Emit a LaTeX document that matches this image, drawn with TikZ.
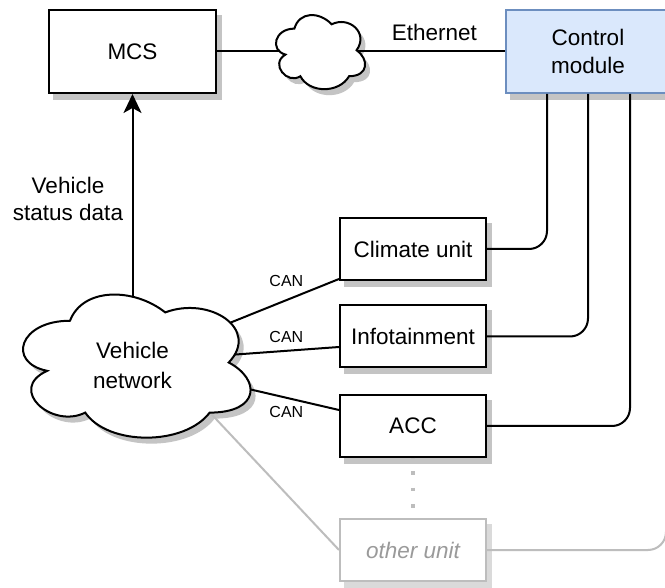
\documentclass[tikz,border=0pt]{standalone}
\usepackage{fontspec}
\setmainfont{Liberation Sans}
\usetikzlibrary{arrows.meta}

\definecolor{shadowgray}{HTML}{C4C4C4}
\definecolor{faintshadow}{HTML}{DADADA}
\definecolor{ctrlfill}{HTML}{DAE8FC}
\definecolor{ctrldraw}{HTML}{6C8EBF}
\definecolor{faintline}{HTML}{BDBDBD}
\definecolor{fainttext}{HTML}{9A9A9A}

\pgfdeclarelayer{shadowlayer}
\pgfsetlayers{shadowlayer,main}

\newcommand\dmain{\fontsize{22.5}{28}\selectfont}
\newcommand\dsmall{\fontsize{16}{19}\selectfont}

% cloud outline: #1,#2 = top left corner, #3 = width, #4 = height, #5 = path options
\newcommand\dcloud[5]{%
  \path[#5] ({#1+0.25*#3},{#2+0.25*#4})
    .. controls ({#1+0.05*#3},{#2+0.25*#4}) and ({#1},{#2+0.5*#4}) .. ({#1+0.16*#3},{#2+0.55*#4})
    .. controls ({#1},{#2+0.66*#4}) and ({#1+0.18*#3},{#2+0.9*#4}) .. ({#1+0.31*#3},{#2+0.8*#4})
    .. controls ({#1+0.4*#3},{#2+#4}) and ({#1+0.7*#3},{#2+#4}) .. ({#1+0.8*#3},{#2+0.8*#4})
    .. controls ({#1+#3},{#2+0.8*#4}) and ({#1+#3},{#2+0.6*#4}) .. ({#1+0.875*#3},{#2+0.5*#4})
    .. controls ({#1+#3},{#2+0.3*#4}) and ({#1+0.8*#3},{#2+0.1*#4}) .. ({#1+0.625*#3},{#2+0.2*#4})
    .. controls ({#1+0.5*#3},{#2+0.05*#4}) and ({#1+0.3*#3},{#2+0.05*#4}) .. ({#1+0.25*#3},{#2+0.25*#4})
    -- cycle;}

% drop shadow behind a named node
\newcommand\dshadow[2]{%
  \begin{pgfonlayer}{shadowlayer}
    \fill[#2] ([shift={(5,6)}]#1.north west) rectangle ([shift={(5,6)}]#1.south east);
  \end{pgfonlayer}}

\tikzset{
  boxbase/.style={line width=2pt, minimum width=146pt, minimum height=62pt, inner sep=2pt},
  unit/.style={boxbase, draw=black, fill=white, font=\dmain},
  faintunit/.style={boxbase, draw=faintline, fill=white, text=fainttext, font=\dmain\itshape},
  link/.style={line width=2pt, draw=black},
  faintlink/.style={line width=2pt, draw=faintline},
  lbl/.style={font=\dmain, inner sep=0pt},
  canlbl/.style={font=\dsmall, inner sep=0pt},
}

\begin{document}
\begin{tikzpicture}[x=1pt,y=-1pt]
\begin{pgfonlayer}{shadowlayer}
  \fill[white] (0,0) rectangle (665,588);
\end{pgfonlayer}
\useasboundingbox (0,0) rectangle (665,588);
\clip (0,0) rectangle (665,588);

% boxes
\node[unit, minimum width=167pt, minimum height=83pt] (mcs) at (132.5,51.5) {MCS};
\node[unit, fill=ctrlfill, draw=ctrldraw, minimum width=164pt, minimum height=83pt, align=center] (ctrl) at (588,51.5) {Control\\module};
\node[unit] (climate) at (413,249) {Climate unit};
\node[unit] (info) at (413,336.5) {Infotainment};
\node[unit] (acc) at (413,426) {ACC};
\node[faintunit] (other) at (413,550) {other unit};

\dshadow{mcs}{shadowgray}
\dshadow{ctrl}{shadowgray}
\dshadow{climate}{shadowgray}
\dshadow{info}{shadowgray}
\dshadow{acc}{shadowgray}
\dshadow{other}{faintshadow}

% cloud reference points
\coordinate (vnetc) at (132.5,362);
\coordinate (inetc) at (319,51.5);
\coordinate (vnetedge) at (200,402);

% cloud shadows
\begin{pgfonlayer}{shadowlayer}
  \dcloud{11.5}{285}{254}{167}{fill=shadowgray}
  \dcloud{274.5}{13}{99.5}{86.5}{fill=shadowgray}
\end{pgfonlayer}

% Ethernet link
\draw[link] (mcs.east) -- (inetc) -- node[lbl, pos=0.62, yshift=19.5pt] {Ethernet} (ctrl.west);

% status data upstream
\draw[link, -{Stealth[length=19pt, width=18pt, inset=5pt]}] (vnetc)
  -- node[lbl, pos=0.608, xshift=-64.5pt, align=center, font=\fontsize{22.5}{27}\selectfont] {Vehicle\\status data} (mcs.south);

% CAN buses
\draw[link] (vnetc) -- node[canlbl, pos=0.745, yshift=19.5pt] {CAN} ([yshift=2pt]climate.south west);
\draw[link] (vnetc) -- node[canlbl, pos=0.745, yshift=14pt] {CAN} ([yshift=-10.5pt]info.west);
\draw[link] (vnetc) -- node[canlbl, pos=0.745, yshift=-14pt] {CAN} ([yshift=16pt]acc.west);
\draw[faintlink] (vnetedge) -- (other.west);

% units to control module
\draw[link, rounded corners=18pt] (climate.east) -| ([xshift=42pt]ctrl.south west);
\draw[link, rounded corners=18pt] (info.east) -| ([xshift=83pt]ctrl.south west);
\draw[link, rounded corners=18pt] (acc.east) -| ([xshift=125pt]ctrl.south west);
\draw[faintlink, rounded corners=18pt] (other.east) -| ([xshift=161pt]ctrl.south west);

% ellipsis between units
\draw[draw=faintline, line width=3.5pt, dash pattern=on 3.5pt off 13pt, dash phase=3.25pt] (acc.south) -- (other.north);

% clouds
\dcloud{6.5}{279}{254}{167}{draw=black, fill=white, line width=2pt}
\dcloud{269.5}{7}{99.5}{86.5}{draw=black, fill=white, line width=2pt}
\node[lbl, align=center, font=\fontsize{22.5}{30}\selectfont] (vnet) at (132.5,365) {Vehicle\\network};
\end{tikzpicture}
\end{document}
